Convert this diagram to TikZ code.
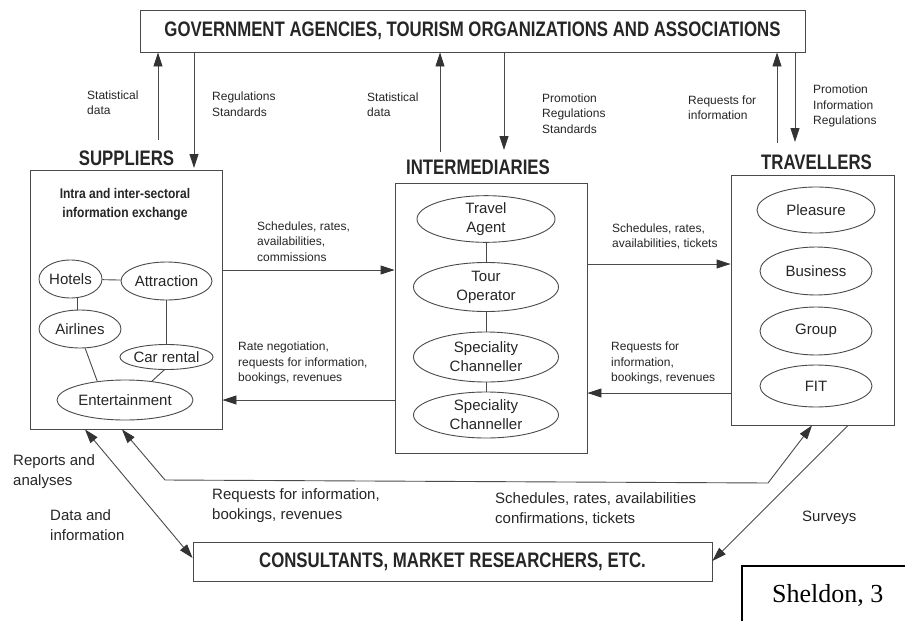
\documentclass[tikz,border=0pt]{standalone}
\usepackage{fontspec}
\setmainfont{Liberation Sans}
\newfontfamily\condfont[FakeStretch=0.8]{Liberation Sans}
\newfontfamily\subfont[FakeStretch=0.86]{Liberation Sans}
\newfontfamily\citefont{Liberation Serif}
\usetikzlibrary{shapes.geometric,arrows.meta}
\definecolor{ink}{HTML}{262626}
\definecolor{wire}{HTML}{4A4A4A}
\definecolor{tipc}{HTML}{333333}

\begin{document}
\begin{tikzpicture}[x=1pt,y=-1pt,
  every node/.style={text=ink},
  frame/.style={draw=wire, line width=0.9pt, rectangle, inner sep=0pt},
  ttl/.style={font=\condfont\bfseries\fontsize{21}{24}\selectfont, inner sep=0pt},
  ovl/.style={ellipse, draw=wire, line width=0.9pt, inner sep=0pt, align=center,
              font=\fontsize{15}{19}\selectfont},
  lbl/.style={font=\fontsize{12}{15.5}\selectfont, align=left, inner sep=0pt, anchor=west},
  blbl/.style={font=\fontsize{15}{20}\selectfont, align=left, inner sep=0pt, anchor=west},
  link/.style={draw=wire, line width=0.9pt},
  flow/.style={draw=wire, line width=0.9pt, -{Triangle[length=14pt,width=9pt,color=tipc]}},
  flowtwo/.style={draw=wire, line width=0.9pt,
     {Triangle[length=14pt,width=9pt,color=tipc]}-{Triangle[length=14pt,width=9pt,color=tipc]}},
]
\useasboundingbox (0,0) rectangle (905,621);
\fill[white] (0,0) rectangle (905,621);

% ---------- main boxes ----------
\node[frame, ttl, minimum width=665pt, minimum height=42pt] (gov) at (472.5,31)
  {GOVERNMENT AGENCIES, TOURISM ORGANIZATIONS AND ASSOCIATIONS};
\node[frame, minimum width=192pt, minimum height=259pt] (sup) at (126,299.5) {};
\node[frame, minimum width=192pt, minimum height=270pt] (int) at (491,318) {};
\node[frame, minimum width=163pt, minimum height=250pt] (trv) at (812.5,300) {};
\node[frame, ttl, minimum width=519pt, minimum height=39pt] (con) at (452.5,561.5)
  {CONSULTANTS, MARKET RESEARCHERS, ETC.};

% ---------- group titles ----------
\node[ttl, anchor=base] (supt) at (126.5,165) {SUPPLIERS};
\node[ttl, anchor=base] (intt) at (478,174) {INTERMEDIARIES};
\node[ttl, anchor=base] (trvt) at (816.5,169) {TRAVELLERS};

% ---------- suppliers ----------
\node[font=\subfont\bfseries\fontsize{14}{19}\selectfont, align=center, inner sep=0pt] (xch)
  at (125,204) {Intra and inter-sectoral\\information exchange};
\node[ovl, minimum width=63pt, minimum height=38pt] (hot) at (70.5,279) {Hotels};
\node[ovl, minimum width=91pt, minimum height=38pt] (att) at (166.5,281) {Attraction};
\node[ovl, minimum width=82pt, minimum height=38pt] (air) at (80,329) {Airlines};
\node[ovl, minimum width=91pt, minimum height=25pt] (car) at (166.5,357) {Car rental};
\node[ovl, minimum width=136pt, minimum height=40pt] (ent) at (125,400) {Entertainment};
\draw[link] (hot) -- (att);
\draw[link] ([xshift=6.5pt]hot.south) -- ([xshift=6.5pt]hot.south |- air.north);
\draw[link] (att) -- (car);
\draw[link] (air.-75) -- (ent.146);
\draw[link] (car.-100) -- (ent.35);

% ---------- intermediaries ----------
\node[ovl, minimum width=138pt, minimum height=42pt] (ta) at (486,219) {Travel\\Agent};
\node[ovl, minimum width=145pt, minimum height=49pt] (to) at (486,287) {Tour\\Operator};
\node[ovl, minimum width=145pt, minimum height=50pt] (sc1) at (486,357) {Speciality\\Channeller};
\node[ovl, minimum width=145pt, minimum height=46pt] (sc2) at (486,415) {Speciality\\Channeller};
\draw[link] (ta) -- (to);
\draw[link] (to) -- (sc1);
\draw[link] (sc1) -- (sc2);

% ---------- travellers ----------
\node[ovl, minimum width=118pt, minimum height=46pt] (ple) at (816,210) {Pleasure};
\node[ovl, minimum width=112pt, minimum height=48pt] (bus) at (816,271) {Business};
\node[ovl, minimum width=112pt, minimum height=48pt] (grp) at (816,331) {Group};
\node[ovl, minimum width=112pt, minimum height=42pt] (fit) at (816,386) {FIT};

% ---------- flows to and from the agencies ----------
\coordinate (sA) at (158,140);
\coordinate (sB) at (194,168);
\coordinate (iA) at (440,152);
\coordinate (iB) at (504,150);
\coordinate (tA) at (777,143);
\coordinate (tB) at (795,142);
\draw[flow] (sA) -- (sA |- gov.south);
\draw[flow] (sB |- gov.south) -- (sB);
\draw[flow] (iA) -- (iA |- gov.south);
\draw[flow] (iB |- gov.south) -- (iB);
\draw[flow] (tA) -- (tA |- gov.south);
\draw[flow] (tB |- gov.south) -- (tB);

\node[lbl] (l1) at (87,102.5) {Statistical\\data};
\node[lbl] (l2) at (212,104) {Regulations\\Standards};
\node[lbl] (l3) at (367,104.5) {Statistical\\data};
\node[lbl] (l4) at (542,113.5) {Promotion\\Regulations\\Standards};
\node[lbl] (l5) at (688,107.5) {Requests for\\information};
\node[lbl] (l6) at (813,106) {Promotion\\Information\\Regulations};

% ---------- flows between the three sectors ----------
\coordinate (y1) at (0,270);
\coordinate (y2) at (0,400);
\coordinate (y3) at (0,264);
\coordinate (y4) at (0,393);
\draw[flow] (sup.east |- y1) -- (int.west |- y1);
\draw[flow] (int.west |- y2) -- (sup.east |- y2);
\draw[flow] (int.east |- y3) -- (trv.west |- y3);
\draw[flow] (trv.west |- y4) -- (int.east |- y4);

\node[lbl] (l7) at (257,241.5) {Schedules, rates,\\availabilities,\\commissions};
\node[lbl] (l8) at (238,363) {Rate negotiation,\\requests for information,\\bookings, revenues};
\node[lbl] (l9) at (612,236.5) {Schedules, rates,\\availabilities, tickets};
\node[lbl] (l10) at (611,363) {Requests for\\information,\\bookings, revenues};

% ---------- lower flows ----------
\coordinate (xa) at (122,0);
\coordinate (xt) at (812,0);
\coordinate (xd) at (85,0);
\coordinate (xs) at (848,0);
\coordinate (yd) at (0,558);
\coordinate (ys) at (0,561);
\coordinate (b1) at (165,480);
\coordinate (b2) at (768,483);
\draw[flowtwo] (sup.south -| xa) -- (b1) -- (b2) -- (trv.south -| xt);
\draw[flowtwo] (sup.south -| xd) -- (con.west |- yd);
\draw[flow] (trv.south -| xs) -- (con.east |- ys);

\node[blbl] (l11) at (13,472) {Reports and\\analyses};
\node[blbl] (l12) at (50,525) {Data and\\information};
\node[blbl] (l13) at (212,506) {Requests for information,\\bookings, revenues};
\node[blbl] (l14) at (495,509.5) {Schedules, rates, availabilities\\confirmations, tickets};
\node[blbl] (l15) at (802,518) {Surveys};

% ---------- source tag ----------
\draw[line width=1.4pt, black] (742,630) -- (742,566) -- (912,566);
\node[font=\citefont\fontsize{26}{30}\selectfont, anchor=base west, inner sep=0pt, text=black]
  (src) at (772,602) {Sheldon, 3};
\end{tikzpicture}
\end{document}
